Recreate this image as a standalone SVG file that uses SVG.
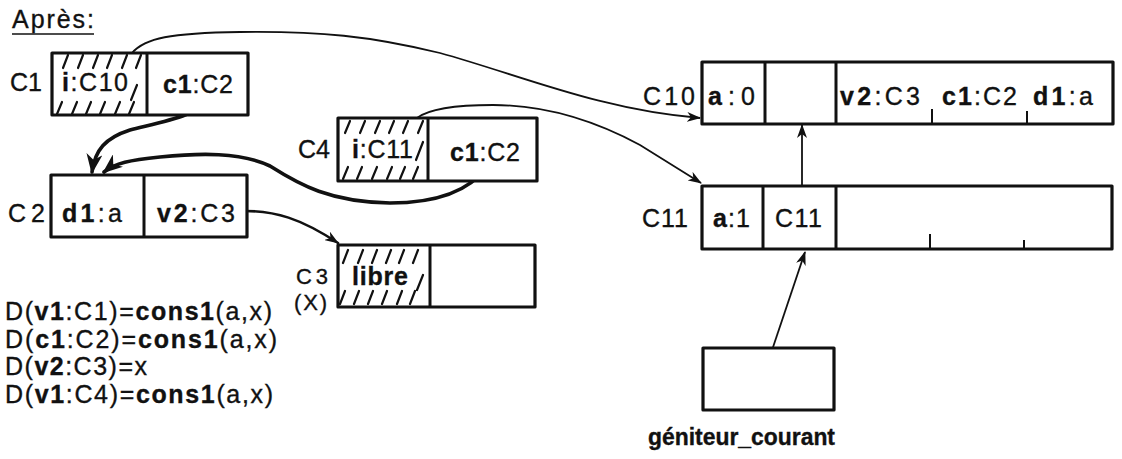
<svg xmlns="http://www.w3.org/2000/svg" width="1122" height="459" viewBox="0 0 1122 459">
<defs>
<style>
.t{font-family:"Liberation Sans",Arial,sans-serif;font-size:25px;fill:#111;stroke:#111;stroke-width:0.35}
.b{font-weight:bold}
.box{fill:#fff;stroke:#111;stroke-width:3.2;stroke-linejoin:round}
.div{stroke:#111;stroke-width:3}
.tick{stroke:#111;stroke-width:2}
.h{stroke:#111;stroke-width:2.2;fill:none;stroke-linecap:round}
.c{fill:none;stroke:#111;stroke-width:1.8}
.ck{fill:none;stroke:#111;stroke-width:3.6;stroke-linecap:round}
</style>
<marker id="ah" viewBox="0 0 14 10" refX="13" refY="5" markerWidth="14" markerHeight="10" orient="auto" markerUnits="userSpaceOnUse"><path d="M0,0 L14,5 L0,10 L4,5 z" fill="#111"/></marker>
<marker id="ahk" viewBox="0 0 20 16" refX="18" refY="8" markerWidth="20" markerHeight="16" orient="auto" markerUnits="userSpaceOnUse"><path d="M0,0 L20,8 L0,16 L6,8 z" fill="#111"/></marker>
</defs>
<rect width="1122" height="459" fill="#fff"/>

<text class="t" x="12" y="28" textLength="82" lengthAdjust="spacing">Après:</text>
<line x1="12" y1="34" x2="94" y2="34" stroke="#111" stroke-width="1.6"/>

<g id="connectors">
<path class="c" d="M132,53 C145,38 170,33 240,32 C320,31 370,36 440,53 C520,75 600,110 700,118" marker-end="url(#ah)"/>
<path class="c" d="M417,118 C430,108 460,105 493,105 C540,105 590,118 640,145 L701,183" marker-end="url(#ah)"/>
<path class="ck" d="M207,97 C200,115 170,120 130,130 C105,138 95,150 92,172" marker-end="url(#ahk)"/>
<path class="ck" d="M487,167 C470,190 440,203 390,203 C330,202 300,185 270,166 C240,152 200,153 160,157 C130,160 115,163 104,172" marker-end="url(#ahk)"/>
<circle cx="245" cy="211" r="3" fill="#111"/>
<path class="ck" style="stroke-width:2.6" d="M245,211 C275,211 300,218 338,243" marker-end="url(#ah)"/>
<line class="c" x1="802" y1="198" x2="802" y2="125" marker-end="url(#ah)"/>
<line class="c" x1="763" y1="377" x2="805" y2="252" marker-end="url(#ah)"/>
</g>

<g id="C1">
<rect class="box" x="52" y="53" width="196" height="62"/>
<line class="div" x1="147" y1="53" x2="147" y2="115"/>
<path class="h" d="M63,68 l5,-13 M78,68 l5,-13 M93,68 l5,-13 M107,68 l5,-13 M122,68 l5,-13 M136,68 l5,-13 M57,114 l5,-12 M72,114 l5,-12 M86,114 l5,-12 M100,114 l5,-12 M115,114 l5,-12 M129,114 l5,-12 M131,100 l6,-15"/>
<text class="t" x="10" y="91" textLength="32" lengthAdjust="spacing">C1</text>
<text class="t" x="62" y="91" textLength="66" lengthAdjust="spacing"><tspan class="b">i</tspan>:C10</text>
<text class="t" x="163" y="93" textLength="70" lengthAdjust="spacing"><tspan class="b">c1</tspan>:C2</text>
</g>

<g id="C2">
<rect class="box" x="51" y="175" width="196" height="62"/>
<line class="div" x1="144" y1="175" x2="144" y2="237"/>
<text class="t" x="8" y="222" textLength="37" lengthAdjust="spacing">C2</text>
<text class="t" x="62" y="222" textLength="60" lengthAdjust="spacing"><tspan class="b">d1</tspan>:a</text>
<text class="t" x="157" y="222" textLength="78" lengthAdjust="spacing"><tspan class="b">v2</tspan>:C3</text>
</g>

<g id="C4">
<rect class="box" x="338" y="118" width="199" height="63"/>
<line class="div" x1="428" y1="118" x2="428" y2="181"/>
<path class="h" d="M345,133 l5,-12 M360,133 l5,-12 M375,133 l5,-12 M389,133 l5,-12 M403,133 l5,-12 M418,133 l5,-12 M343,179 l5,-12 M357,179 l5,-12 M372,179 l5,-12 M387,179 l5,-12 M400,179 l5,-12 M413,179 l5,-12 M416,160 l7,-18"/>
<text class="t" x="298" y="158" textLength="32" lengthAdjust="spacing">C4</text>
<text class="t" x="352" y="158" textLength="61" lengthAdjust="spacing"><tspan class="b">i</tspan>:C11</text>
<text class="t" x="450" y="161" textLength="70" lengthAdjust="spacing"><tspan class="b">c1</tspan>:C2</text>
</g>

<g id="C3">
<rect class="box" x="338" y="245" width="197" height="62"/>
<line class="div" x1="430" y1="245" x2="430" y2="307"/>
<path class="h" d="M343,263 l5,-13 M358,263 l5,-13 M372,263 l5,-13 M386,263 l5,-13 M399,263 l5,-13 M413,263 l5,-13 M340,304 l5,-13 M354,304 l5,-13 M368,304 l5,-13 M382,304 l5,-13 M397,304 l5,-13 M410,304 l5,-13 M417,290 l6,-15"/>
<text class="t" style="font-size:22px" x="296" y="284" textLength="32" lengthAdjust="spacing">C3</text>
<text class="t" style="font-size:22px" x="294" y="310" textLength="33" lengthAdjust="spacing">(X)</text>
<text class="t b" x="352" y="285" textLength="56" lengthAdjust="spacing">libre</text>
</g>

<g id="C10">
<rect class="box" x="702" y="62" width="411" height="62"/>
<line class="div" x1="765" y1="62" x2="765" y2="124"/>
<line class="div" x1="836" y1="62" x2="836" y2="124"/>
<line class="tick" x1="932" y1="109" x2="932" y2="124"/>
<line class="tick" x1="1027" y1="111" x2="1027" y2="124"/>
<text class="t" x="643" y="105" textLength="52" lengthAdjust="spacing">C10</text>
<text class="t" x="708" y="105" textLength="47" lengthAdjust="spacing"><tspan class="b">a</tspan>:0</text>
<text class="t" x="840" y="105" textLength="80" lengthAdjust="spacing"><tspan class="b">v2</tspan>:C3</text>
<text class="t" x="942" y="105" textLength="75" lengthAdjust="spacing"><tspan class="b">c1</tspan>:C2</text>
<text class="t" x="1033" y="105" textLength="60" lengthAdjust="spacing"><tspan class="b">d1</tspan>:a</text>
</g>

<g id="C11">
<rect class="box" x="702" y="186" width="410" height="63"/>
<line class="div" x1="763" y1="186" x2="763" y2="249"/>
<line class="div" x1="836" y1="186" x2="836" y2="249"/>
<line class="tick" x1="930" y1="234" x2="930" y2="249"/>
<line class="tick" x1="1024" y1="240" x2="1024" y2="249"/>
<text class="t" x="642" y="227" textLength="46" lengthAdjust="spacing">C11</text>
<text class="t" x="713" y="227" textLength="37" lengthAdjust="spacing"><tspan class="b">a</tspan>:1</text>
<text class="t" x="775" y="227" textLength="47" lengthAdjust="spacing">C11</text>
</g>

<g id="geniteur">
<rect class="box" x="703" y="348" width="131" height="62"/>
<text class="t b" style="font-size:23px" x="648" y="445" textLength="187" lengthAdjust="spacingAndGlyphs">géniteur_courant</text>
</g>

<g id="formulas">
<text class="t" x="5" y="320" textLength="267" lengthAdjust="spacing">D(<tspan class="b">v1</tspan>:C1)=<tspan class="b">cons1</tspan>(a,x)</text>
<text class="t" x="5" y="348" textLength="272" lengthAdjust="spacing">D(<tspan class="b">c1</tspan>:C2)=<tspan class="b">cons1</tspan>(a,x)</text>
<text class="t" x="5" y="375" textLength="142" lengthAdjust="spacing">D(<tspan class="b">v2</tspan>:C3)=x</text>
<text class="t" x="5" y="403" textLength="268" lengthAdjust="spacing">D(<tspan class="b">v1</tspan>:C4)=<tspan class="b">cons1</tspan>(a,x)</text>
</g>
</svg>
